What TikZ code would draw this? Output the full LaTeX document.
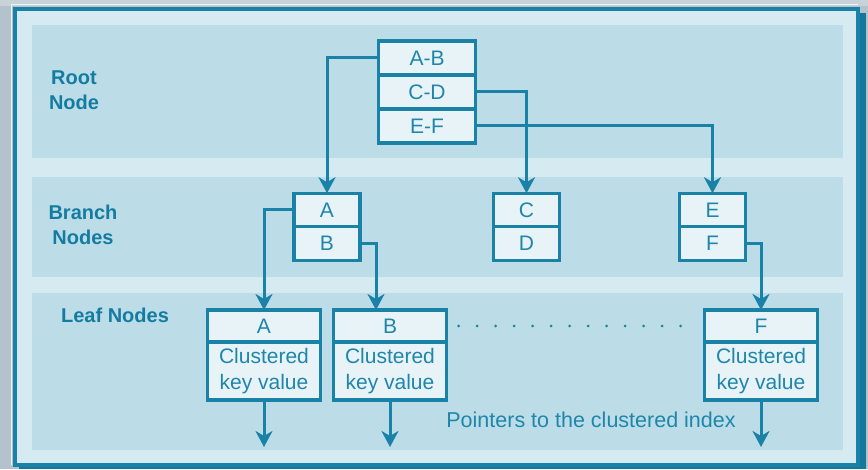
\documentclass[tikz,border=0pt]{standalone}
\usepackage{fontspec}
\setmainfont{Liberation Sans}
\usetikzlibrary{arrows.meta,positioning,calc}

\definecolor{ixbg}{HTML}{B3C2CC}
\definecolor{ixtop}{HTML}{C8D2D9}
\definecolor{ixframe}{HTML}{D6EAF1}
\definecolor{ixband}{HTML}{BCDDE7}
\definecolor{ixcell}{HTML}{E8F3F8}
\definecolor{ixline}{HTML}{1A82A6}
\definecolor{ixshadow}{HTML}{14789C}
\definecolor{ixtext}{HTML}{1F86AB}
\definecolor{ixlabel}{HTML}{157CA1}

\begin{document}
\begin{tikzpicture}[x=1pt, y=1pt,
  cell/.style={draw=ixline, fill=ixcell, line width=3.2pt, outer sep=0pt, inner sep=0pt, text=ixtext, font=\fontsize{21}{26}\selectfont},
  rootcell/.style={cell, minimum width=97pt, minimum height=34pt},
  brcell/.style={cell, minimum width=66pt, minimum height=33.5pt},
  leafkey/.style={cell, minimum width=113pt, minimum height=32pt},
  leafval/.style={cell, minimum width=113pt, minimum height=58pt, align=center},
  level/.style={align=center, text=ixlabel, font=\fontsize{20}{24.5}\selectfont\bfseries},
  band/.style={fill=ixband},
  ptr/.style={draw=ixline, line width=3pt, -{Stealth[length=16pt, width=17pt, inset=5pt]}}
]
\useasboundingbox (0,0) rectangle (868,469);

% backdrop and frame
\fill[ixbg] (0,0) rectangle (868,469);
\fill[ixtop] (0,463) rectangle (868,469);
\fill[ixshadow] (19,0) rectangle (866,456);
\draw[white!80!ixbg, line width=1.2pt] (11.5,4) |- (858,464.5);
\draw[ixline, fill=ixframe, line width=4pt] (15,4) rectangle (858,460);

% the three levels
\fill[band] (32,311) rectangle (843,444);
\fill[band] (32,192) rectangle (843,292);
\fill[band] (32,19) rectangle (843,176);

\node[level] (lroot) at (74,379) {Root\\Node};
\node[level] (lbranch) at (83,244) {Branch\\Nodes};
\node[level] (lleaf) at (115,154) {Leaf Nodes};

% root node
\node[rootcell] (rab) at (427,411) {A-B};
\node[rootcell, below=0pt of rab] (rcd) {C-D};
\node[rootcell, below=0pt of rcd] (ref) {E-F};

% branch nodes
\node[brcell] (ba) at (327,259) {A};
\node[brcell, below=0pt of ba] (bb) {B};
\node[brcell] (bc) at (526.5,259) {C};
\node[brcell, below=0pt of bc] (bd) {D};
\node[brcell] (be) at (712.5,259) {E};
\node[brcell, below=0pt of be] (bf) {F};

% leaf nodes
\node[leafkey] (lak) at (264,143) {A};
\node[leafval, below=0pt of lak] (lav) {Clustered\\key value};
\node[leafkey] (lbk) at (390,143) {B};
\node[leafval, below=0pt of lbk] (lbv) {Clustered\\key value};
\node[leafkey] (lfk) at (761,143) {F};
\node[leafval, below=0pt of lfk] (lfv) {Clustered\\key value};

\draw[ixline, line width=3pt, line cap=round, dash pattern=on 0pt off 18.5pt,
  shorten <=12pt, shorten >=8pt] (lbk.east) -- (lfk.west);

\node[text=ixtext, font=\fontsize{21.5}{26}\selectfont] (ptrtxt) at (591,49)
  {Pointers to the clustered index};

% pointers
\draw[ptr] (rab.west) -| (ba.north);
\draw[ptr] (rcd.east) -| (bc.north);
\draw[ptr] (ref.east) -| (be.north);
\draw[ptr] (ba.west) -| (lak.north);
\draw[ptr] (bb.east) -| ([xshift=-14pt]lbk.north);
\draw[ptr] (bf.east) -| (lfk.north);

\coordinate (outa) at (264,22);
\coordinate (outb) at (390,22);
\coordinate (outf) at (761,22);
\draw[ptr] (lav.south) -- (outa);
\draw[ptr] (lbv.south) -- (outb);
\draw[ptr] (lfv.south) -- (outf);

\end{tikzpicture}
\end{document}
